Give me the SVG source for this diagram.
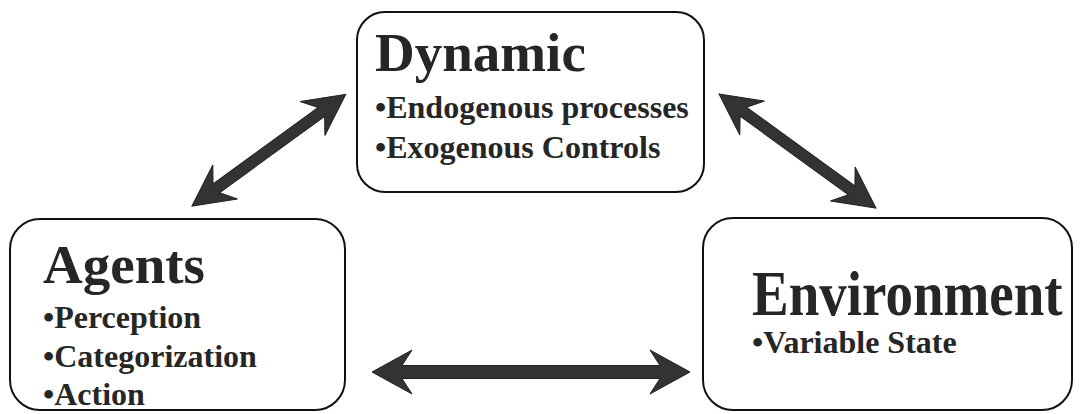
<svg xmlns="http://www.w3.org/2000/svg" width="1082" height="414" viewBox="0 0 1082 414">
<style>
.box{fill:#fff;stroke:#111;stroke-width:2}
.title{font-family:"Liberation Serif","Times New Roman",serif;font-weight:bold;font-size:55px;fill:#262626}
.item{font-family:"Liberation Serif","Times New Roman",serif;font-weight:bold;font-size:32px;fill:#262626}
.arrow{fill:#333;stroke:#222;stroke-width:1}
</style>
<rect width="1082" height="414" fill="#fff"/>
<g id="connectors">
<polygon class="arrow" transform="translate(372,372)" points="0,0 40,-22 30,-6.5 288,-6.5 278,-22 318,0 278,22 288,6.5 30,6.5 40,22"/>
<polygon class="arrow" transform="translate(192,206) rotate(-36)" points="0,0 41,-21 30,-5.5 160,-5.5 149,-21 190,0 149,21 160,5.5 30,5.5 41,21"/>
<polygon class="arrow" transform="translate(719,94) rotate(36)" points="0,0 41,-21 30,-5.5 164,-5.5 153,-21 194,0 153,21 164,5.5 30,5.5 41,21"/>
</g>
<g id="dynamic">
<rect class="box" x="357" y="12" width="347" height="180" rx="28"/>
<text class="title" x="375" y="71">Dynamic</text>
<text class="item" x="375" y="118">•Endogenous processes</text>
<text class="item" x="375" y="158">•Exogenous Controls</text>
</g>
<g id="agents">
<rect class="box" x="10" y="219" width="335" height="191" rx="30"/>
<text class="title" x="43" y="283">Agents</text>
<text class="item" x="43" y="328">•Perception</text>
<text class="item" x="43" y="367">•Categorization</text>
<text class="item" x="43" y="405">•Action</text>
</g>
<g id="environment">
<rect class="box" x="703" y="218" width="369" height="192" rx="30"/>
<text class="title" transform="translate(752,315) scale(1,1.15)">Environment</text>
<text class="item" x="752" y="353">•Variable State</text>
</g>
</svg>
